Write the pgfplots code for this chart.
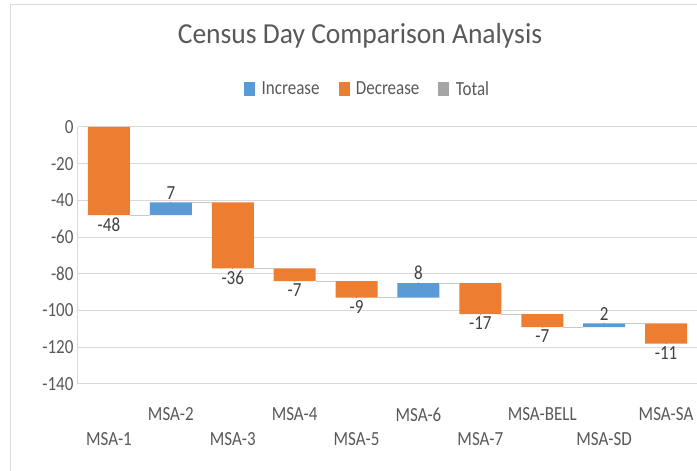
\documentclass[border=0pt]{standalone}
\usepackage{pgfplots}
\pgfplotsset{compat=1.18}
\usepackage{pgfplotstable}
\usepackage{fontspec}
\setmainfont{Carlito}[FakeStretch=0.85]
\newfontfamily\titlefont{Carlito}[FakeStretch=0.95]
\definecolor{incblue}{HTML}{5B9BD5}
\definecolor{decorange}{HTML}{ED7D31}
\definecolor{totgray}{HTML}{A5A5A5}
\definecolor{gridgray}{HTML}{D9D9D9}
\definecolor{txt}{HTML}{595959}
\definecolor{lbl}{HTML}{404040}
\definecolor{conn}{HTML}{C8C8C8}

% waterfall: top = upper edge of each floating bar, inc/dec = (negative) bar height
\pgfplotstableread{
x top inc dec
0 0 0 -48
1 -41 -7 0
2 -41 0 -36
3 -77 0 -7
4 -84 0 -9
5 -85 -8 0
6 -85 0 -17
7 -102 0 -7
8 -107 -2 0
9 -107 0 -11
}\wfdata

\pgfplotstableread{
x y l
0 -48 -48
2 -77 -36
3 -84 -7
4 -93 -9
6 -102 -17
7 -109 -7
9 -118 -11
}\declabels

\pgfplotstableread{
x y l
1 -41 7
5 -85 8
8 -107 2
}\inclabels

\begin{document}
\begin{tikzpicture}[x=1pt,y=1pt]
\useasboundingbox (0,0) rectangle (697,471);
\fill[white] (0,0) rectangle (697,471);
\draw[gridgray, line width=1pt] (10,-5) -- (10,466) -- (710,466);
\node[text=txt, font=\titlefont\fontsize{29}{34}\selectfont] at (360,435) {Census Day Comparison Analysis};

\begin{axis}[
  at={(78pt,87pt)}, anchor=south west,
  scale only axis, width=619pt, height=257pt,
  xmin=-0.5, xmax=9.5, ymin=-140, ymax=0,
  ybar stacked, bar width=42pt,
  separate axis lines,
  axis x line*=bottom, axis y line*=left,
  axis line style={-, gridgray, line width=1pt},
  ymajorgrids, grid style={gridgray, line width=1pt},
  major tick length=0pt,
  ytick={-140,-120,...,0},
  /pgf/number format/assume math mode=true,
  yticklabel style={text=txt, font=\fontsize{20}{24}\selectfont, xshift=-1pt},
  xtick={1,3,5,7,9},
  xticklabels={MSA-2,MSA-4,MSA-6,MSA-BELL,MSA-SA},
  xticklabel style={text=txt, font=\fontsize{20}{24}\selectfont, yshift=-20pt},
  extra x ticks={0,2,4,6,8},
  extra x tick labels={MSA-1,MSA-3,MSA-5,MSA-7,MSA-SD},
  extra x tick style={grid=none, xticklabel style={yshift=-25pt}},
  legend image code/.code={\fill[#1] (0pt,-6.5pt) rectangle (10pt,6.5pt);},
  legend style={at={(0.468,1.148)}, anchor=center, draw=none, fill=none,
    legend columns=-1, font=\fontsize{20}{24}\selectfont, text=txt,
    /tikz/every odd column/.append style={column sep=5pt},
    /tikz/every even column/.append style={column sep=17pt}},
]
\addplot[forget plot, draw=none, fill=none] table[x=x, y=top] {\wfdata};
\addplot[forget plot, draw=none, fill=incblue] table[x=x, y=inc] {\wfdata};
\addplot[forget plot, draw=none, fill=decorange] table[x=x, y=dec] {\wfdata};
\addlegendimage{incblue}
\addlegendentry{Increase}
\addlegendimage{decorange}
\addlegendentry{Decrease}
\addlegendimage{totgray}
\addlegendentry{Total}
\end{axis}

\begin{axis}[
  at={(78pt,87pt)}, anchor=south west,
  scale only axis, width=619pt, height=257pt,
  xmin=-0.5, xmax=9.5, ymin=-140, ymax=0,
  hide axis, clip=false,
]
\addplot[conn, line width=1pt] coordinates {(0.34,-48) (0.66,-48)};
\addplot[conn, line width=1pt] coordinates {(1.34,-41) (1.66,-41)};
\addplot[conn, line width=1pt] coordinates {(2.34,-77) (2.66,-77)};
\addplot[conn, line width=1pt] coordinates {(3.34,-84) (3.66,-84)};
\addplot[conn, line width=1pt] coordinates {(4.34,-93) (4.66,-93)};
\addplot[conn, line width=1pt] coordinates {(5.34,-85) (5.66,-85)};
\addplot[conn, line width=1pt] coordinates {(6.34,-102) (6.66,-102)};
\addplot[conn, line width=1pt] coordinates {(7.34,-109) (7.66,-109)};
\addplot[conn, line width=1pt] coordinates {(8.34,-107) (8.66,-107)};
\addplot[only marks, mark=*, mark size=0.01pt, mark options={draw=none, fill=none},
  point meta=explicit symbolic, nodes near coords,
  every node near coord/.append style={anchor=north, text=lbl, font=\fontsize{20}{24}\selectfont, inner sep=2.5pt}]
  table[x=x, y=y, meta=l] {\declabels};
\addplot[only marks, mark=*, mark size=0.01pt, mark options={draw=none, fill=none},
  point meta=explicit symbolic, nodes near coords,
  every node near coord/.append style={anchor=south, text=lbl, font=\fontsize{20}{24}\selectfont, inner sep=3pt}]
  table[x=x, y=y, meta=l] {\inclabels};
\end{axis}
\end{tikzpicture}
\end{document}
